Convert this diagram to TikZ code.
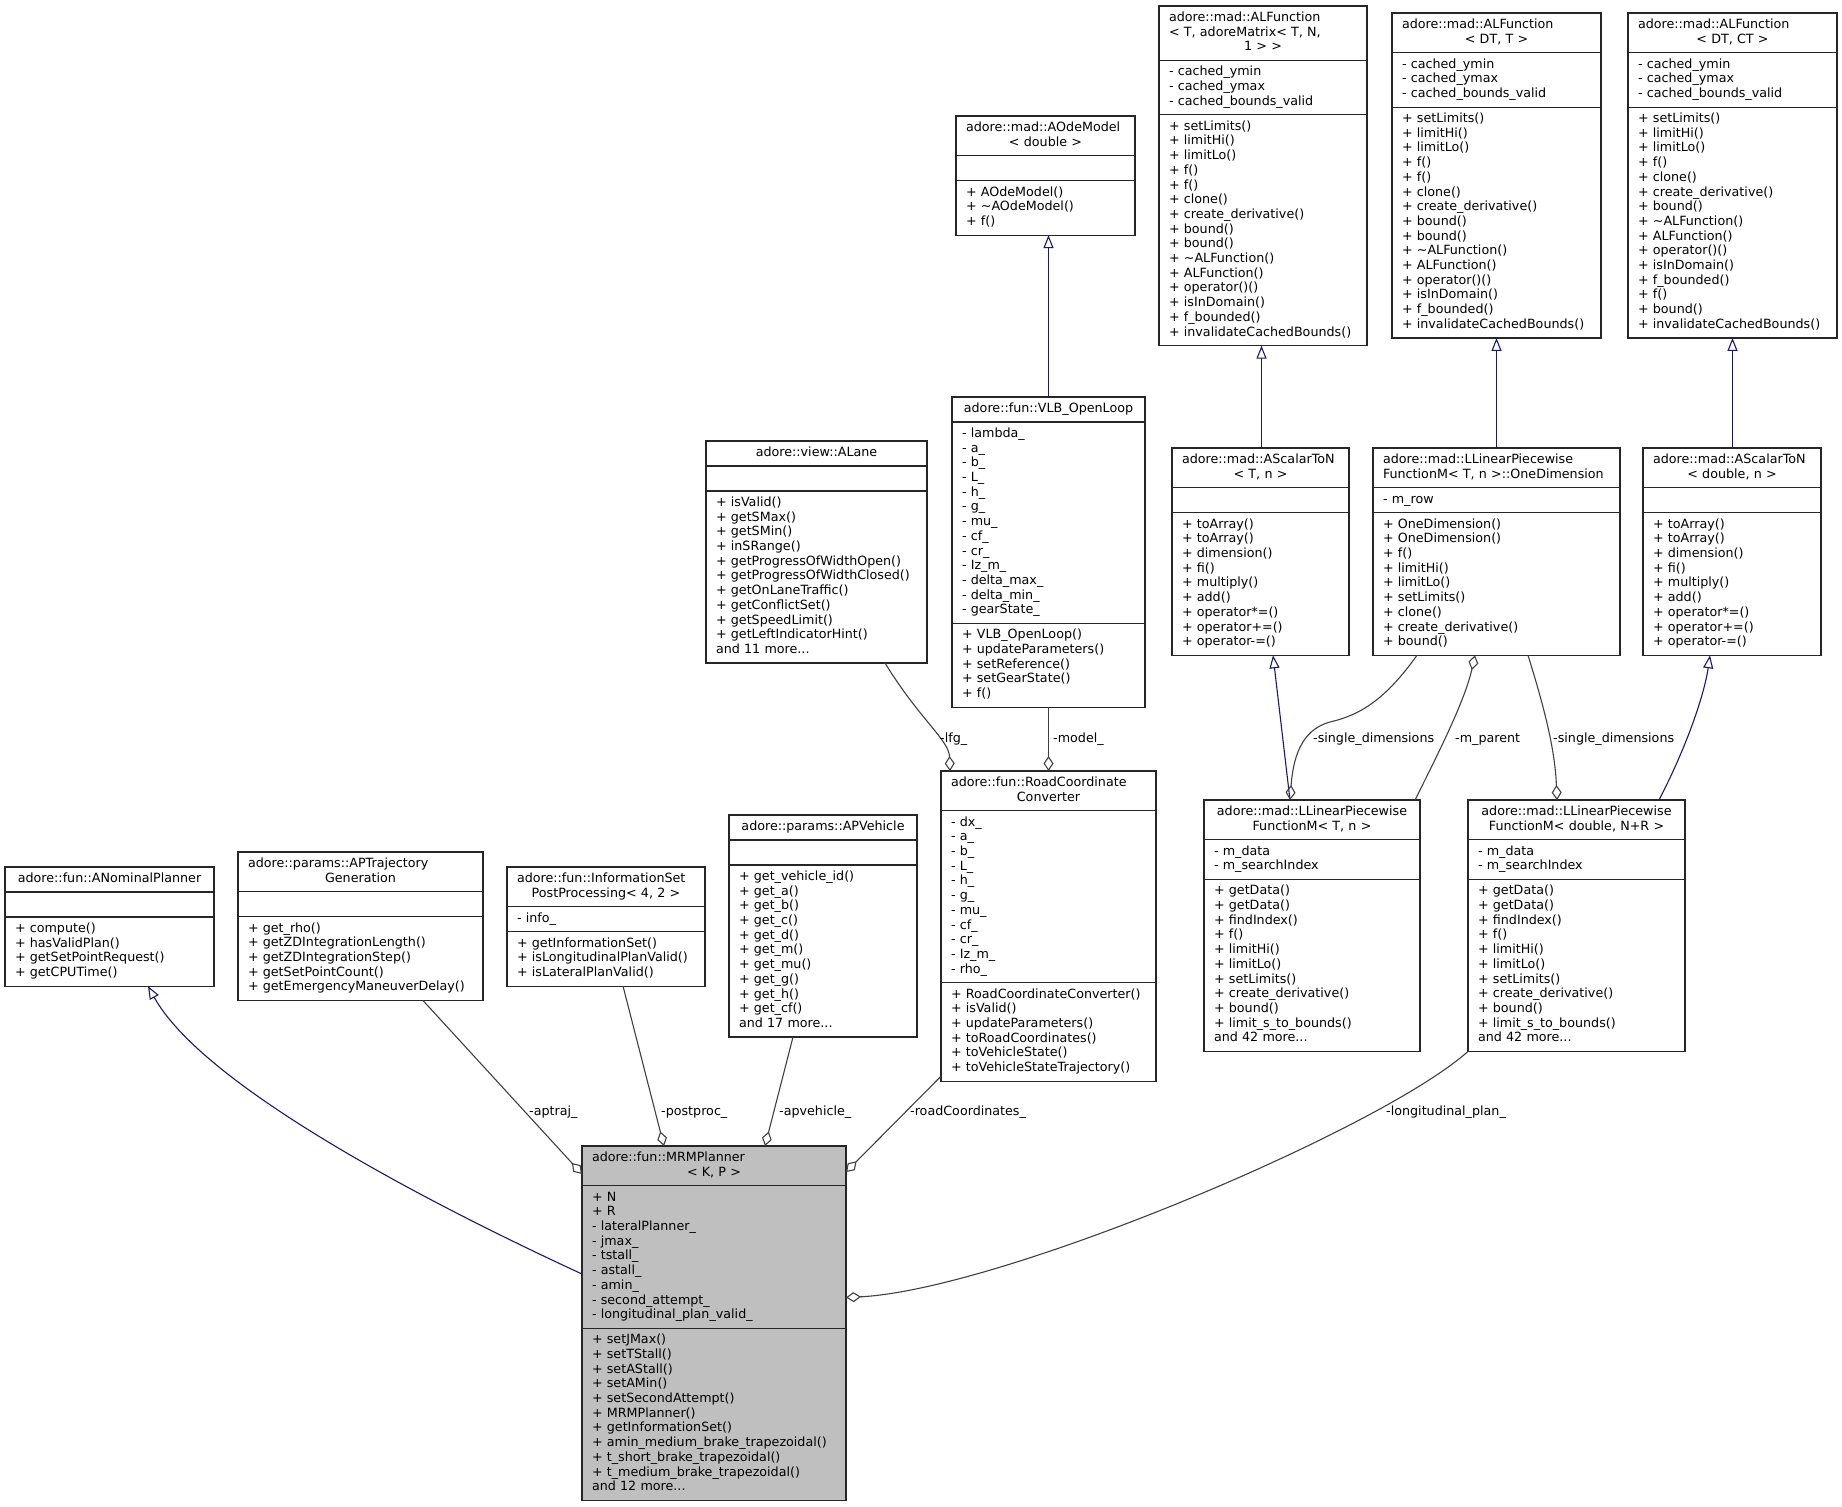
\documentclass[tikz,border=0pt]{standalone}
\usepackage{fontspec}
\setmainfont{DejaVu Sans}
\usetikzlibrary{arrows.meta, positioning}
\definecolor{edgegray}{RGB}{64,64,64}
\definecolor{inheritblue}{RGB}{25,25,112}
\definecolor{mainfill}{RGB}{191,191,191}
\tikzset{
    classpart/.style={draw=black!85, line width=1.2pt, fill=white, outer sep=0pt,
        inner xsep=10pt, inner ysep=5.15pt, align=left,
        font=\fontsize{12.7}{14.7}\selectfont,
        execute at begin node=\strut, execute at end node=\strut},
    classhead/.style={classpart, align=center},
    mainclass/.style={fill=mainfill},
    usage/.style={draw=edgegray, line width=1.1pt, -{Diamond[open, length=15pt, width=10pt]}},
    inherit/.style={draw=inheritblue, line width=1.1pt, -{Triangle[open, length=13pt, width=10pt]}},
    edgelabel/.style={inner sep=0pt, anchor=base west, font=\fontsize{12.7}{14.7}\selectfont},
}
% title lines above the last one stay flush left
\newcommand{\titleline}[1]{\makebox[\linewidth][l]{#1}\\}
% one class box: title, attributes, methods
\newcommand{\classbox}[6]{%
    \node[classhead, #2, anchor=north west] (#1) at #3 {#4};
    \node[classpart, #2, below=0pt of #1] (#1-a) {#5};
    \node[classpart, #2, below=0pt of #1-a] (#1-m) {#6};
}

\begin{document}
\begin{tikzpicture}[x=1pt, y=-1pt]
    \useasboundingbox (0,0) rectangle (1842,1507);

    % bottom row
    \classbox{anp}{text width=189pt}{(5,867)}{adore::fun::ANominalPlanner}{}
        {+ compute()\\+ hasValidPlan()\\+ getSetPointRequest()\\+ getCPUTime()}
    \classbox{aptraj}{text width=225pt}{(238,852)}{\titleline{adore::params::APTrajectory}Generation}{}
        {+ get\_rho()\\+ getZDIntegrationLength()\\+ getZDIntegrationStep()\\+ getSetPointCount()\\+ getEmergencyManeuverDelay()}
    \classbox{isp}{text width=178pt}{(507,867)}{\titleline{adore::fun::InformationSet}PostProcessing< 4, 2 >}{- info\_}
        {+ getInformationSet()\\+ isLongitudinalPlanValid()\\+ isLateralPlanValid()}
    \classbox{apv}{text width=168pt}{(729,815)}{adore::params::APVehicle}{}
        {+ get\_vehicle\_id()\\+ get\_a()\\+ get\_b()\\+ get\_c()\\+ get\_d()\\+ get\_m()\\+ get\_mu()\\+ get\_g()\\+ get\_h()\\+ get\_cf()\\and 17 more...}
    \classbox{rcc}{text width=195pt}{(941,771)}{\titleline{adore::fun::RoadCoordinate}Converter}
        {- dx\_\\- a\_\\- b\_\\- L\_\\- h\_\\- g\_\\- mu\_\\- cf\_\\- cr\_\\- Iz\_m\_\\- rho\_}
        {+ RoadCoordinateConverter()\\+ isValid()\\+ updateParameters()\\+ toRoadCoordinates()\\+ toVehicleState()\\+ toVehicleStateTrajectory()}
    \classbox{mrm}{text width=244pt, mainclass}{(582,1146)}{\titleline{adore::fun::MRMPlanner}< K, P >}
        {+ N\\+ R\\- lateralPlanner\_\\- jmax\_\\- tstall\_\\- astall\_\\- amin\_\\- second\_attempt\_\\- longitudinal\_plan\_valid\_}
        {+ setJMax()\\+ setTStall()\\+ setAStall()\\+ setAMin()\\+ setSecondAttempt()\\+ MRMPlanner()\\+ getInformationSet()\\+ amin\_medium\_brake\_trapezoidal()\\+ t\_short\_brake\_trapezoidal()\\+ t\_medium\_brake\_trapezoidal()\\and 12 more...}
    \classbox{llp1}{text width=196pt}{(1204,800)}{adore::mad::LLinearPiecewise\\FunctionM< T, n >}
        {- m\_data\\- m\_searchIndex}
        {+ getData()\\+ getData()\\+ findIndex()\\+ f()\\+ limitHi()\\+ limitLo()\\+ setLimits()\\+ create\_derivative()\\+ bound()\\+ limit\_s\_to\_bounds()\\and 42 more...}
    \classbox{llp2}{text width=197pt}{(1468,800)}{adore::mad::LLinearPiecewise\\FunctionM< double, N+R >}
        {- m\_data\\- m\_searchIndex}
        {+ getData()\\+ getData()\\+ findIndex()\\+ f()\\+ limitHi()\\+ limitLo()\\+ setLimits()\\+ create\_derivative()\\+ bound()\\+ limit\_s\_to\_bounds()\\and 42 more...}

    % middle row
    \classbox{alane}{text width=201pt}{(706,441)}{adore::view::ALane}{}
        {+ isValid()\\+ getSMax()\\+ getSMin()\\+ inSRange()\\+ getProgressOfWidthOpen()\\+ getProgressOfWidthClosed()\\+ getOnLaneTraffic()\\+ getConflictSet()\\+ getSpeedLimit()\\+ getLeftIndicatorHint()\\and 11 more...}
    \classbox{vlb}{text width=173pt}{(952,397)}{adore::fun::VLB\_OpenLoop}
        {- lambda\_\\- a\_\\- b\_\\- L\_\\- h\_\\- g\_\\- mu\_\\- cf\_\\- cr\_\\- Iz\_m\_\\- delta\_max\_\\- delta\_min\_\\- gearState\_}
        {+ VLB\_OpenLoop()\\+ updateParameters()\\+ setReference()\\+ setGearState()\\+ f()}
    \classbox{ast1}{text width=157pt}{(1172,448)}{\titleline{adore::mad::AScalarToN}< T, n >}{}
        {+ toArray()\\+ toArray()\\+ dimension()\\+ fi()\\+ multiply()\\+ add()\\+ operator*=()\\+ operator+=()\\+ operator-=()}
    \classbox{oned}{text width=227pt}{(1373,448)}{\titleline{adore::mad::LLinearPiecewise}\makebox[\linewidth][l]{FunctionM< T, n >::OneDimension}}
        {- m\_row}
        {+ OneDimension()\\+ OneDimension()\\+ f()\\+ limitHi()\\+ limitLo()\\+ setLimits()\\+ clone()\\+ create\_derivative()\\+ bound()}
    \classbox{ast2}{text width=158pt}{(1643,448)}{\titleline{adore::mad::AScalarToN}< double, n >}{}
        {+ toArray()\\+ toArray()\\+ dimension()\\+ fi()\\+ multiply()\\+ add()\\+ operator*=()\\+ operator+=()\\+ operator-=()}

    % top row
    \classbox{aode}{text width=159pt}{(956,116)}{\titleline{adore::mad::AOdeModel}< double >}{}
        {+ AOdeModel()\\+ \textasciitilde AOdeModel()\\+ f()}
    \classbox{alf1}{text width=188pt}{(1159,6)}{\titleline{adore::mad::ALFunction}\titleline{< T, adoreMatrix< T, N,}1 > >}
        {- cached\_ymin\\- cached\_ymax\\- cached\_bounds\_valid}
        {+ setLimits()\\+ limitHi()\\+ limitLo()\\+ f()\\+ f()\\+ clone()\\+ create\_derivative()\\+ bound()\\+ bound()\\+ \textasciitilde ALFunction()\\+ ALFunction()\\+ operator()()\\+ isInDomain()\\+ f\_bounded()\\+ invalidateCachedBounds()}
    \classbox{alf2}{text width=189pt}{(1392,13)}{\titleline{adore::mad::ALFunction}< DT, T >}
        {- cached\_ymin\\- cached\_ymax\\- cached\_bounds\_valid}
        {+ setLimits()\\+ limitHi()\\+ limitLo()\\+ f()\\+ f()\\+ clone()\\+ create\_derivative()\\+ bound()\\+ bound()\\+ \textasciitilde ALFunction()\\+ ALFunction()\\+ operator()()\\+ isInDomain()\\+ f\_bounded()\\+ invalidateCachedBounds()}
    \classbox{alf3}{text width=189pt}{(1628,13)}{\titleline{adore::mad::ALFunction}< DT, CT >}
        {- cached\_ymin\\- cached\_ymax\\- cached\_bounds\_valid}
        {+ setLimits()\\+ limitHi()\\+ limitLo()\\+ f()\\+ clone()\\+ create\_derivative()\\+ bound()\\+ \textasciitilde ALFunction()\\+ ALFunction()\\+ operator()()\\+ isInDomain()\\+ f\_bounded()\\+ f()\\+ bound()\\+ invalidateCachedBounds()}

    % inheritance
    \draw[inherit] ([yshift=-17pt]mrm-a.west) .. controls (400,1190) and (200,1080) .. ([xshift=38.5pt]anp-m.south);
    \draw[inherit] (vlb.north) -- (vlb.north |- aode-m.south);
    \draw[inherit] ([xshift=1pt]ast1.north) -- ([xshift=1pt]ast1.north |- alf1-m.south);
    \draw[inherit] (oned.north) -- (alf2-m.south);
    \draw[inherit] ([xshift=0.5pt]ast2.north) -- ([xshift=0.5pt]ast2.north |- alf3-m.south);
    \draw[inherit] ([xshift=-22pt]llp1.north) -- ([xshift=12.5pt]ast1-m.south);
    \draw[inherit] ([xshift=82.5pt]llp2.north) .. controls (1690,740) and (1705,690) .. ([xshift=-22pt]ast2-m.south);

    % members
    \draw[usage] ([xshift=62.5pt]aptraj-m.south) -- ([yshift=-28pt]mrm.north west);
    \draw[usage] ([xshift=17pt]isp-m.south) -- ([xshift=-50pt]mrm.north);
    \draw[usage] ([xshift=-30pt]apv-m.south) -- ([xshift=51pt]mrm.north);
    \draw[usage] ([yshift=5pt]rcc-m.south west) -- ([yshift=-26pt]mrm.north east);
    \draw[usage] (llp2-m.south west) .. controls (1380,1130) and (1000,1290) .. ([yshift=-40.5pt]mrm-a.east);
    \draw[usage] ([xshift=68.5pt]alane-m.south) .. controls (920,720) and (949,740) .. ([xshift=9pt]rcc.north west);
    \draw[usage] (vlb-m.south) -- (rcc.north);
    \draw[usage] ([xshift=-79.5pt]oned-m.south) .. controls (1385,700) and (1360,715) .. (1330,722)
        .. controls (1300,730) and (1293,760) .. ([xshift=-22pt]llp1.north);
    \draw[usage] ([xshift=103pt]llp1.north) .. controls (1440,750) and (1465,700) .. ([xshift=-21.5pt]oned-m.south);
    \draw[usage] ([xshift=31.5pt]oned-m.south) .. controls (1545,710) and (1555,750) .. ([xshift=-19.5pt]llp2.north);

    \node[edgelabel] (l-aptraj) at (529,1115) {-aptraj\_};
    \node[edgelabel] (l-postproc) at (661,1115) {-postproc\_};
    \node[edgelabel] (l-apvehicle) at (779,1115) {-apvehicle\_};
    \node[edgelabel] (l-road) at (910,1115) {-roadCoordinates\_};
    \node[edgelabel] (l-long) at (1386,1115) {-longitudinal\_plan\_};
    \node[edgelabel] (l-lfg) at (940,742) {-lfg\_};
    \node[edgelabel] (l-model) at (1053,742) {-model\_};
    \node[edgelabel] (l-single1) at (1313,742) {-single\_dimensions};
    \node[edgelabel] (l-parent) at (1455,742) {-m\_parent};
    \node[edgelabel] (l-single2) at (1553,742) {-single\_dimensions};
\end{tikzpicture}
\end{document}
